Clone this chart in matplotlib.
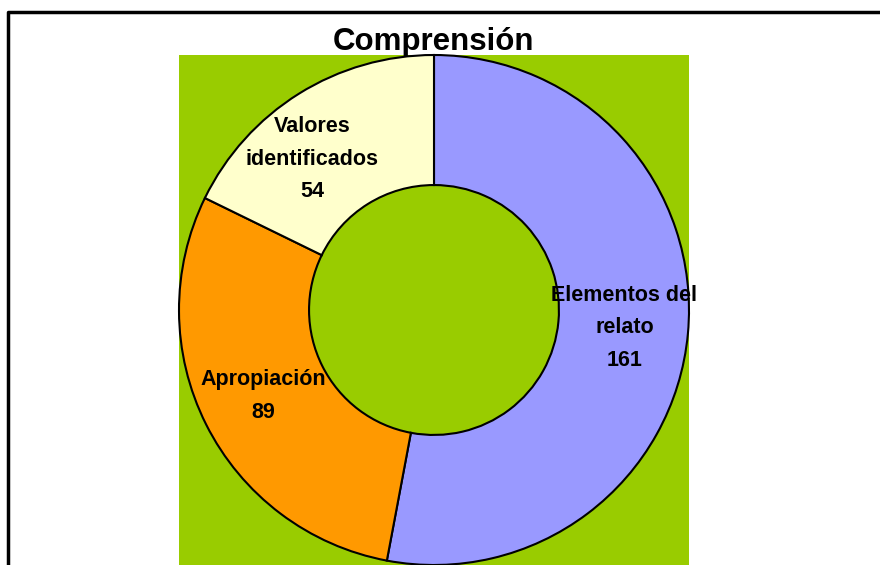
import numpy as np
import matplotlib.pyplot as plt
from matplotlib.lines import Line2D

categorias = ["Elementos del\nrelato", "Apropiación", "Valores\nidentificados"]
valores = [161, 89, 54]
colores = ["#9999FF", "#FF9900", "#FFFFCC"]

plt.rcParams['font.family'] = ['Liberation Sans', 'DejaVu Sans']

fig = plt.figure(figsize=(8.8, 5.65), dpi=100)
W, H = 880, 565

# marco del grafico (cortado abajo y a la derecha)
fig.add_artist(Line2D([8 / W, 8 / W, 1.0], [0.0, 1 - 12 / H, 1 - 12 / H],
                      transform=fig.transFigure, color="black", lw=2.5))

# area verde del grafico
ax = fig.add_axes([179 / W, 0.0, 510 / W, 510 / H])

etiquetas = [f"{c}\n{v}" for c, v in zip(categorias, valores)]
wedges, textos = ax.pie(valores, colors=colores, startangle=90, counterclock=False,
                        radius=1.0, labels=etiquetas, labeldistance=0.75,
                        wedgeprops=dict(width=0.51, edgecolor="black", linewidth=1.5),
                        textprops=dict(fontsize=15.5, fontweight="bold",
                                       linespacing=1.72))
for t in textos:
    t.set_horizontalalignment("center")
    t.set_verticalalignment("center")

# Excel corre un poco la etiqueta de "Valores"
ang = np.deg2rad(129)
textos[2].set_position((0.76 * np.cos(ang), 0.76 * np.sin(ang)))

ax.set_frame_on(True)
ax.set_facecolor("#99CC00")
ax.set_aspect("equal")
ax.set_xlim(-1, 1)
ax.set_ylim(-1, 1)
ax.set_xticks([])
ax.set_yticks([])
for s in ax.spines.values():
    s.set_visible(False)

fig.text(433 / W, 1 - 42 / H, "Comprensión", ha="center", va="center",
         fontsize=22.5, fontweight="bold")

fig.savefig("out.png", dpi=100)
